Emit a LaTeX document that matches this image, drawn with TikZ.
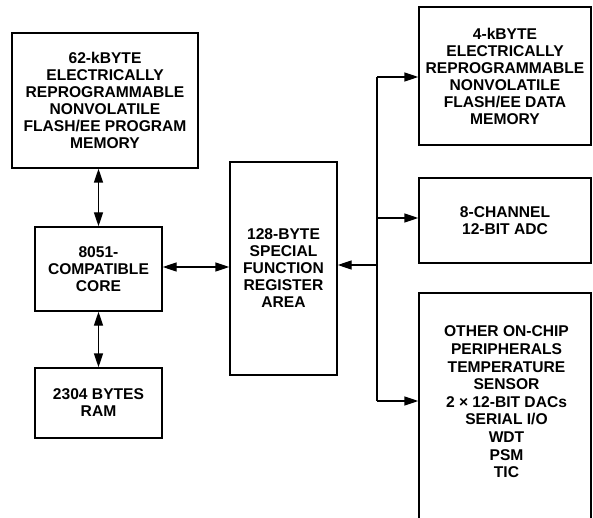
\documentclass[tikz,border=0pt]{standalone}
\usepackage{fontspec}
\setmainfont{Liberation Sans}
\usetikzlibrary{arrows.meta}
\begin{document}
\begin{tikzpicture}[x=1pt,y=-1pt,
  blk/.style={draw, line width=1.4pt, inner sep=0pt, align=center,
    font=\fontsize{15.6}{17}\selectfont\bfseries},
  lbl/.style={inner sep=0pt, align=center, font=\fontsize{15.6}{17.6}\selectfont\bfseries},
  con/.style={line width=1.4pt},
  arr/.style={con, -{Triangle[length=14pt,width=9pt]}},
  darr/.style={con, {Triangle[length=14pt,width=9pt]}-{Triangle[length=14pt,width=9pt]}}]
\clip (0,0) rectangle (593,518);
\fill[white] (0,0) rectangle (593,518);
% left column
\node[blk, minimum width=186pt, minimum height=135pt] (pm) at (105,100.5)
  {62-kBYTE\\ELECTRICALLY\\REPROGRAMMABLE\\NONVOLATILE\\FLASH/EE PROGRAM\\MEMORY};
\node[blk, minimum width=127pt, minimum height=84pt] (core) at (98.5,269)
  {8051-\\COMPATIBLE\\CORE};
\node[blk, minimum width=127pt, minimum height=70pt] (ram) at (98.5,403)
  {2304 BYTES\\RAM};
% SFR
\node[blk, minimum width=107pt, minimum height=213pt] (sfr) at (283.5,268.5)
  {128-BYTE\\SPECIAL\\FUNCTION\\REGISTER\\AREA};
% right column
\node[blk, minimum width=172pt, minimum height=138pt] (dm) at (505,76)
  {4-kBYTE\\ELECTRICALLY\\REPROGRAMMABLE\\NONVOLATILE\\FLASH/EE DATA\\MEMORY};
\node[blk, minimum width=172pt, minimum height=85pt] (adc) at (505,220.5)
  {8-CHANNEL\\12-BIT ADC};
\node[blk, minimum width=172pt, minimum height=240pt] (per) at (505,413) {};
\node[lbl] (pertxt) at (506.5,402)
  {OTHER ON-CHIP\\PERIPHERALS\\TEMPERATURE\\SENSOR\\2 × 12-BIT DACs\\SERIAL I/O\\WDT\\PSM\\TIC};
% connectors on the left
\draw[darr] (pm.south -| core.north) -- (core.north);
\draw[darr] (core.south) -- (ram.north);
\coordinate (cs) at (162,267);
\draw[darr] (core.east |- cs) -- (sfr.west |- cs);
% bus
\coordinate (b1) at (377,77);
\coordinate (b2) at (377,218);
\coordinate (b3) at (377,265);
\coordinate (b4) at (377,401);
\draw[con] (b1) -- (b4);
\draw[arr] (b1) -- (b1 -| dm.west);
\draw[arr] (b2) -- (b2 -| adc.west);
\draw[arr] (b3) -- (b3 -| sfr.east);
\draw[arr] (b4) -- (b4 -| per.west);
\end{tikzpicture}
\end{document}
